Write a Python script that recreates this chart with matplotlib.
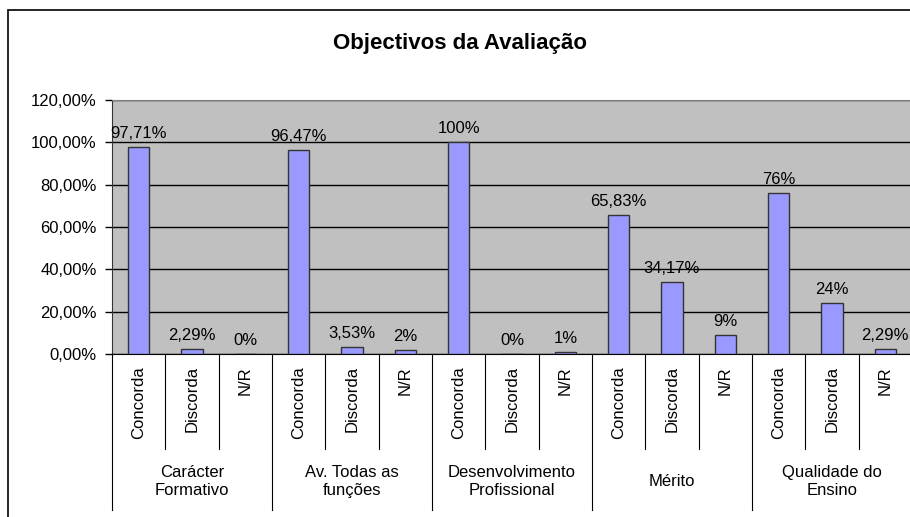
import matplotlib.pyplot as plt
from matplotlib.patches import Rectangle
from matplotlib.ticker import FuncFormatter
import numpy as np

plt.rcParams['font.family'] = ['Liberation Sans', 'DejaVu Sans']

# Chart data
groups = ['Carácter\nFormativo', 'Av. Todas as\nfunções', 'Desenvolvimento\nProfissional',
          'Mérito', 'Qualidade do\nEnsino']
answers = ['Concorda', 'Discorda', 'N/R']
values = [97.71, 2.29, 0,
          96.47, 3.53, 2,
          100, 0, 1,
          65.83, 34.17, 9,
          76, 24, 2.29]
yticks = [0, 20, 40, 60, 80, 100, 120]


def pct_label(v):
    if v == int(v):
        return '%d%%' % v
    return ('%.2f%%' % v).replace('.', ',')


W, H = 910, 517
fs = 12
fig = plt.figure(figsize=(W / 100, H / 100), dpi=100)

# outer chart frame (only left/top visible in the crop)
fig.patches.append(Rectangle((8 / W, -0.1), 1.2, 1 - 10 / H + 0.1, transform=fig.transFigure,
                             fill=False, edgecolor='black', linewidth=1.2))

left, right, top, bottom = 112, 912, 100, 354
ax = fig.add_axes([left / W, 1 - bottom / H, (right - left) / W, (bottom - top) / H])
ax.set_facecolor('#C0C0C0')

n = len(values)
x = np.arange(n)
ax.bar(x, values, width=0.4, color='#9999FF', edgecolor='#333333', linewidth=1, zorder=3)

for xi, v in zip(x, values):
    ax.text(xi, v + 2.8, pct_label(v), ha='center', va='bottom', fontsize=fs, zorder=4)

ax.set_xlim(-0.5, n - 0.5)
ax.set_ylim(0, 120)
ax.set_yticks(yticks)
ax.yaxis.set_major_formatter(FuncFormatter(lambda v, p: ('%.2f%%' % v).replace('.', ',')))
ax.tick_params(axis='y', labelsize=fs, length=5, width=1, pad=6, direction='out')
ax.set_xticks([])
ax.grid(axis='y', color='black', linewidth=1, zorder=1)
ax.set_axisbelow(True)

for s in ['top', 'right']:
    ax.spines[s].set_color('#808080')
ax.spines['left'].set_color('#333333')
ax.spines['bottom'].set_color('black')

# multi-level category axis
ph = bottom - top
def yfrac(pix):
    return -(pix - bottom) / ph

trans = ax.get_xaxis_transform()
for i in range(n):
    ax.text(i, yfrac(366), answers[i % 3], rotation=90, ha='center', va='top',
            fontsize=fs, transform=trans)
for b in range(n + 1):
    xb = b - 0.5
    y_end = yfrac(510) if b % 3 == 0 else yfrac(449)
    ax.plot([xb, xb], [0, y_end], color='black', linewidth=0.8, transform=trans, clip_on=False)
for g, name in enumerate(groups):
    ax.text(g * 3 + 1, yfrac(482), name, ha='center', va='center', fontsize=fs,
            linespacing=1.25, transform=trans)

fig.text(460 / W, 1 - 43 / H, 'Objectivos da Avaliação', ha='center', va='center',
         fontsize=16, fontweight='bold')

fig.savefig('out.png', dpi=100, facecolor='white')
